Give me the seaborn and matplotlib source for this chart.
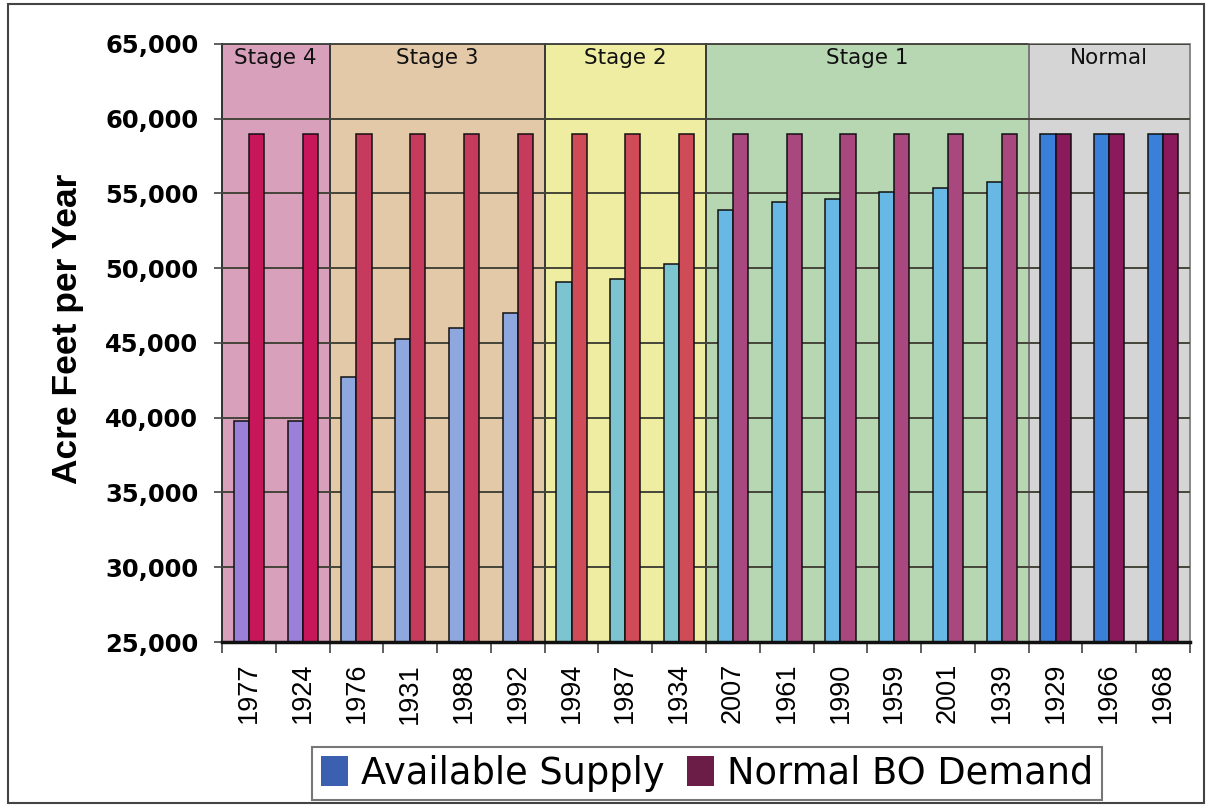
import matplotlib
matplotlib.use("Agg")
import matplotlib.pyplot as plt
from matplotlib.patches import Rectangle, Patch
from matplotlib.ticker import StrMethodFormatter, FixedLocator
import seaborn as sns
import pandas as pd

# ---------------- data ----------------
years = ['1977', '1924', '1976', '1931', '1988', '1992', '1994', '1987', '1934',
         '2007', '1961', '1990', '1959', '2001', '1939', '1929', '1966', '1968']
available_supply = [39800, 39800, 42700, 45300, 46000, 47000, 49100, 49300, 50300,
                    53900, 54400, 54600, 55100, 55400, 55800, 59000, 59000, 59000]
normal_bo_demand = [59000, 59000, 59000, 59000, 59000, 59000, 59000, 59000, 59000,
                    59000, 59000, 59000, 59000, 59000, 59000, 59000, 59000, 59000]
stage_names = ['Stage 4', 'Stage 3', 'Stage 2', 'Stage 1', 'Normal']
stage_counts = [2, 4, 3, 6, 3]
series_names = ['Available Supply', 'Normal BO Demand']

# ---------------- styles ----------------
stage_bg = ['#d9a0bc', '#e3c9a8', '#eeeda2', '#b7d7b3', '#d5d5d5']
stage_edge = ['#3a3a3a', '#3a3a3a', '#3a3a3a', '#3a3a3a', '#808080']
supply_cols = ['#9a80d8', '#8fa7df', '#7cc4cf', '#68b8e6', '#3a7fd8']
demand_cols = ['#c8165a', '#c63a5e', '#cf4b57', '#a8487e', '#8a1a5c']
legend_cols = ['#3c60b0', '#6b1d48']

W, H = 1207, 805
fig = plt.figure(figsize=(W / 100, H / 100), dpi=100)
ax = fig.add_axes([222 / W, 1 - 642 / H, (1190 - 222) / W, (642 - 44) / H])

df = pd.DataFrame({
    'year': years * 2,
    'series': [series_names[0]] * len(years) + [series_names[1]] * len(years),
    'value': available_supply + normal_bo_demand,
})

sns.barplot(data=df, x='year', y='value', hue='series', order=years,
            hue_order=series_names, width=0.56, gap=0, edgecolor='#111111',
            linewidth=1.1, legend=False, ax=ax, errorbar=None, zorder=3)

# recolour bars by stage
stage_of = []
for i, c in enumerate(stage_counts):
    stage_of += [i] * c
for bar, s in zip(ax.containers[0], stage_of):
    bar.set_facecolor(supply_cols[s])
for bar, s in zip(ax.containers[1], stage_of):
    bar.set_facecolor(demand_cols[s])

ax.set_ylim(25000, 65000)
ax.set_xlim(-0.5, len(years) - 0.5)

# stage backgrounds
start = -0.5
for name, cnt, bg, ec in zip(stage_names, stage_counts, stage_bg, stage_edge):
    ax.add_patch(Rectangle((start, 25000), cnt, 40000, facecolor=bg,
                           edgecolor='none', zorder=0.1))
    ax.add_patch(Rectangle((start, 25000), cnt, 40000, facecolor='none',
                           edgecolor=ec, linewidth=1.3, zorder=2, clip_on=False))
    ax.text(start + cnt / 2, 64050, name, ha='center', va='center',
            fontsize=15.5, color='#111111', zorder=4)
    start += cnt

# grid
ax.set_yticks([25000, 30000, 35000, 40000, 45000, 50000, 55000, 60000, 65000])
ax.yaxis.set_major_formatter(StrMethodFormatter('{x:,.0f}'))
ax.grid(axis='y', color='#45453a', linewidth=1.4, zorder=1)
ax.grid(axis='x', visible=False)
ax.set_axisbelow(False)
for gl in ax.get_ygridlines():
    gl.set_zorder(1)

for lab in ax.get_yticklabels():
    lab.set_fontweight('bold')
    lab.set_fontsize(17.5)
ax.tick_params(axis='y', length=6, width=1.2, color='#444444', pad=11)

# x ticks
ax.set_xticks(range(len(years)))
ax.set_xticklabels(years, rotation=90, fontsize=19.5, family='Liberation Sans')
ax.tick_params(axis='x', which='major', length=0, pad=15)
ax.xaxis.set_minor_locator(FixedLocator([i - 0.5 for i in range(len(years) + 1)]))
ax.tick_params(axis='x', which='minor', length=8, width=1.2, color='#444444')
ax.set_xlabel('')

ax.set_ylabel('Acre Feet per Year', fontsize=25.5, fontweight='bold',
              family='Liberation Sans')
ax.yaxis.set_label_coords(-0.143, 0.523)

for side in ['top', 'right']:
    ax.spines[side].set_visible(False)
ax.spines['left'].set_color('#333333')
ax.spines['left'].set_linewidth(1.3)
ax.spines['bottom'].set_color('#111111')
ax.spines['bottom'].set_linewidth(2.5)
ax.spines['bottom'].set_zorder(5)

# legend
handles = [Patch(facecolor=legend_cols[0], edgecolor='none'),
           Patch(facecolor=legend_cols[1], edgecolor='none')]
leg = fig.legend(handles, series_names, loc='lower center', ncol=2,
                 bbox_to_anchor=(707 / W, 5 / H), fontsize=26.5, frameon=True,
                 fancybox=False, edgecolor='#555555', handlelength=0.75,
                 handleheight=0.85, handletextpad=0.35, columnspacing=0.6,
                 borderpad=0.22, borderaxespad=0)
leg.get_frame().set_linewidth(1.5)

# outer frame
fig.patches.append(Rectangle((8 / W, 2 / H), (1204 - 8) / W, (801 - 2) / H,
                             transform=fig.transFigure, facecolor='none',
                             edgecolor='#444444', linewidth=1.5))

fig.savefig('out.png', dpi=100)
